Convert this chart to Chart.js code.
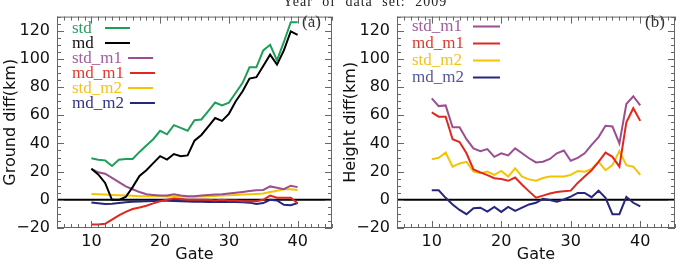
<!DOCTYPE html>
<html>
<head>
<meta charset="utf-8">
<script src="https://cdn.jsdelivr.net/npm/chart.js@4.4.0/dist/chart.umd.min.js"></script>
<style>
  html, body { margin: 0; padding: 0; background: #fff; }
  body { width: 681px; height: 264px; position: relative; overflow: hidden; }
  canvas { position: absolute; top: 0; }
  #chartA { left: 0; }
  #chartB { left: 340px; }
  #title { position: absolute; left: 283px; top: -5px; white-space: nowrap;
           font: 14px/14px "Liberation Serif", serif; letter-spacing: 1px; word-spacing: 5px; color: #222; }
</style>
</head>
<body>
<canvas id="chartA" width="340" height="264"></canvas>
<canvas id="chartB" width="341" height="264"></canvas>
<div id="title">Year of data set: 2009</div>
<script>
// range gates along the x axis
const gates = [10, 11, 12, 13, 14, 15, 16, 17, 18, 19, 20, 21, 22, 23, 24, 25,
               26, 27, 28, 29, 30, 31, 32, 33, 34, 35, 36, 37, 38, 39, 40];

// panel (a): ground diff (km)
const stdA   = [29.5, 28.5, 28, 24, 28.5, 29, 29, 34, 38.5, 43, 49, 46.5, 53, 51, 49, 56.5,
                57, 63, 69, 67, 69, 76, 83, 94, 94, 106, 110, 99, 112, 126, 126];
const mdA    = [22, 18, 12, 0, 0, 2, 9, 17, 21, 26, 31, 28.5, 32.5, 31, 31.5, 42,
                46, 52, 58, 56, 61, 70, 77, 86, 87, 95, 103, 96, 106, 119.5, 117];
const stdM1A = [22, 19.5, 18.5, 15.5, 12.5, 9.5, 7.5, 5.5, 4, 3.5, 3, 3, 4, 3, 2.5, 2.5,
                3, 3.5, 3.7, 4, 4.5, 5, 5.6, 6.3, 6.7, 7, 9.5, 8.5, 7.5, 10, 9];
const mdM1A  = [-17.5, -17.5, -17, -14, -11, -8.5, -6.5, -5.5, -4.2, -2.5, -1, 0, 1, 0.5, 0, 0,
                0, 0, -0.5, 0, -0.5, -0.5, -1, -1, -1, 0, 3, 1.5, 1.5, 1.5, -2.5];
const stdM2A = [4.2, 4, 3.7, 3.5, 3.2, 3, 2.8, 2.6, 2.5, 2.5, 2.5, 2.4, 2.3, 2.3, 2.2, 2.2,
                2.3, 2.5, 2.7, 3, 3.3, 3.5, 3.7, 4, 4.2, 4.5, 5.5, 6.5, 7.5, 7.5, 7];
const mdM2A  = [-1.9, -2.5, -3, -2.8, -2.3, -1.8, -1.4, -1.2, -1, -0.8, -0.7, -0.7, -0.8, -1, -1.2, -1.4,
                -1.4, -1.5, -1.6, -1.5, -1.5, -1.6, -1.8, -2, -3, -2.3, 0, -0.5, -3.5, -3.8, -2.3];

// panel (b): height diff (km)
const stdM1B = [72, 66.5, 67, 51.5, 51.5, 43, 36.5, 34.5, 36, 30.5, 33, 31.5, 36.5, 33, 29.5, 26.5,
                27, 29, 33, 35, 27.7, 29.8, 33, 39, 44.5, 52.5, 52, 40, 68, 73.5, 67];
const mdM1B  = [62, 59, 59, 43, 41, 33, 21.5, 19.5, 17.5, 15.3, 14.7, 13.5, 15.8, 10.7, 6, 1.5,
                3, 4.5, 5.5, 6, 6.5, 12, 16.5, 21, 27, 33.5, 30.5, 23.5, 55, 65, 56];
const stdM2B = [28.8, 29.8, 33.5, 23.5, 25.8, 27, 20, 18.8, 20, 17.7, 20.5, 16.5, 22.3, 16.5, 14.5, 13.5,
                15.5, 16.5, 16.5, 16.5, 17.7, 20.5, 20, 21.9, 27, 21, 24.6, 34.7, 24.6, 23.5, 17.7];
const mdM2B  = [6.7, 6.7, 1.4, -3.3, -7.2, -10.2, -6, -5.6, -8.4, -5.1, -8.6, -5.1, -7.9, -5.6, -3.3, -2.1,
                0.7, -0.2, -1.4, 0.2, 2.3, 4.9, 4.9, 1.9, 6.5, 1.4, -10.2, -10.2, 2.1, -2.1, -4.7];

const xTicks = [10, 20, 30, 40];
const yTicks = [-20, 0, 20, 40, 60, 80, 100, 120];

const pts = arr => arr.map((v, i) => ({ x: gates[i], y: v }));

function series(label, values, color, textColor) {
    return { label: label, data: pts(values), borderColor: color, textColor: textColor,
             borderWidth: 2, pointRadius: 0, tension: 0, fill: false };
}

// box, inward ticks, zero line, legend and panel tag
const frame = {
    id: 'frame',
    beforeDatasetsDraw(chart) {
        const { ctx, chartArea: a, scales: { y } } = chart;
        const y0 = y.getPixelForValue(0);
        ctx.save();
        ctx.strokeStyle = '#000';
        ctx.lineWidth = 2;
        ctx.beginPath();
        ctx.moveTo(a.left, y0);
        ctx.lineTo(a.right, y0);
        ctx.stroke();
        ctx.restore();
    },
    afterDraw(chart, args, opts) {
        const { ctx, chartArea: a, scales: { x, y } } = chart;
        ctx.save();
        ctx.strokeStyle = '#666';
        ctx.lineWidth = 1;
        ctx.strokeRect(a.left + 0.5, a.top + 0.5, a.right - a.left - 1, a.bottom - a.top - 1);
        ctx.beginPath();
        for (let g = x.min; g <= x.max; g++) {
            const px = Math.round(x.getPixelForValue(g)) + 0.5;
            const len = g % 10 === 0 ? 7 : 4;
            ctx.moveTo(px, a.bottom); ctx.lineTo(px, a.bottom - len);
            ctx.moveTo(px, a.top); ctx.lineTo(px, a.top + len);
        }
        for (let v = y.min; v <= y.max; v += 5) {
            const py = Math.round(y.getPixelForValue(v)) + 0.5;
            const len = v % 20 === 0 ? 7 : 4;
            ctx.moveTo(a.left, py); ctx.lineTo(a.left + len, py);
            ctx.moveTo(a.right, py); ctx.lineTo(a.right - len, py);
        }
        ctx.stroke();

        const L = opts.legend;
        ctx.font = '17px "Liberation Serif", serif';
        ctx.textBaseline = 'alphabetic';
        chart.data.datasets.forEach((ds, i) => {
            const by = L.y + i * L.step;
            ctx.fillStyle = ds.textColor;
            ctx.fillText(ds.label, L.x, by);
            const tx = Math.max(L.x + ctx.measureText(ds.label).width + 6, L.x + L.minOff);
            ctx.strokeStyle = ds.borderColor;
            ctx.lineWidth = 2;
            ctx.beginPath();
            ctx.moveTo(tx, by - 4.5);
            ctx.lineTo(tx + L.len, by - 4.5);
            ctx.stroke();
        });
        ctx.fillStyle = '#333';
        ctx.fillText(opts.tag, a.right - 30, 27);
        ctx.restore();
    }
};

function makeChart(id, datasets, yTitle, legend, tag, rightPad) {
    return new Chart(document.getElementById(id), {
        type: 'line',
        data: { datasets: datasets },
        options: {
            responsive: false,
            animation: false,
            layout: { padding: { top: 13, right: rightPad, left: 0, bottom: 0 } },
            scales: {
                x: {
                    type: 'linear', min: 5, max: 45,
                    grid: { display: false, drawTicks: false },
                    border: { display: false },
                    afterBuildTicks: s => { s.ticks = xTicks.map(v => ({ value: v })); },
                    afterFit: s => { s.height = 36; },
                    ticks: { color: '#111', padding: 4, maxRotation: 0,
                             font: { family: 'DejaVu Sans', size: 16 } },
                    title: { display: true, text: 'Gate', color: '#111', padding: 0,
                             font: { family: 'DejaVu Sans', size: 16 } }
                },
                y: {
                    min: -20, max: 130,
                    grid: { display: false, drawTicks: false },
                    border: { display: false },
                    afterBuildTicks: s => { s.ticks = yTicks.map(v => ({ value: v })); },
                    afterFit: s => { s.width = 57; },
                    ticks: { color: '#111', padding: 7,
                             font: { family: 'DejaVu Sans', size: 16 },
                             callback: v => v < 0 ? '\u2212' + Math.abs(v) : String(v) },
                    title: { display: true, text: yTitle, color: '#111', padding: { top: 1, bottom: 0 },
                             font: { family: 'DejaVu Sans', size: 16 } }
                }
            },
            plugins: {
                legend: { display: false },
                tooltip: { enabled: false },
                frame: { legend: legend, tag: tag }
            }
        },
        plugins: [frame]
    });
}

makeChart('chartA', [
    series('std', stdA, '#1f9e5a', '#2e9e66'),
    series('md', mdA, '#000000', '#111111'),
    series('std_m1', stdM1A, '#9a4f8e', '#a0609a'),
    series('md_m1', mdM1A, '#e0281e', '#e03a30'),
    series('std_m2', stdM2A, '#f5c400', '#f0c420'),
    series('md_m2', mdM2A, '#26267e', '#33338a')
], 'Ground diff(km)', { x: 72, y: 32.5, step: 15, minOff: 33, len: 25 }, '(a)', 8);

makeChart('chartB', [
    series('std_m1', stdM1B, '#9a4f8e', '#a0609a'),
    series('md_m1', mdM1B, '#e0281e', '#e03a30'),
    series('std_m2', stdM2B, '#f5c400', '#f0c420'),
    series('md_m2', mdM2B, '#26267e', '#55559a')
], 'Height diff(km)', { x: 72, y: 31, step: 17, minOff: 61, len: 27 }, '(b)', 6);
</script>
</body>
</html>
